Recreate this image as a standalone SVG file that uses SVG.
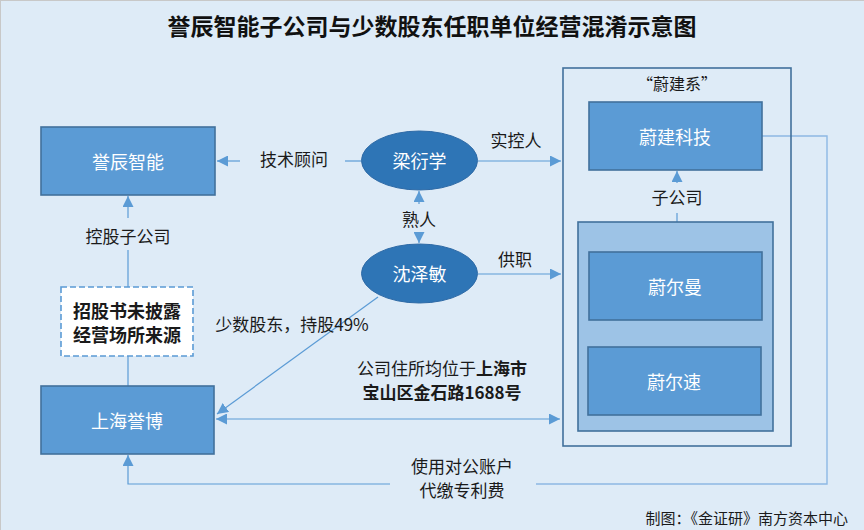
<svg xmlns="http://www.w3.org/2000/svg" width="864" height="530" viewBox="0 0 864 530">
<defs>
<style>
.bg{fill:#DEEBF7;stroke:#C8C8C8;stroke-width:1}
.box{fill:#5B9BD5;stroke:#41719C;stroke-width:1.6}
.ell{fill:#2E75B6;stroke:#2E6AA6;stroke-width:1}
.frame{fill:none;stroke:#41719C;stroke-width:1.6}
.inner{fill:#9DC3E6;stroke:#41719C;stroke-width:1.6}
.dash{fill:#FFFFFF;stroke:#5B9BD5;stroke-width:1.6;stroke-dasharray:6 3}
.ln{fill:none;stroke:#5B9BD5;stroke-width:1.2}
.ln2{fill:none;stroke:#8DB8E4;stroke-width:1.4}
text{font-family:"Noto Sans CJK SC","Microsoft YaHei",sans-serif;text-anchor:middle;dominant-baseline:central}
.w{fill:#FFFFFF;font-size:18px}
.lb{fill:#1A1A1A;font-size:17px}
.b{font-weight:bold}
</style>
<marker id="ar" markerUnits="userSpaceOnUse" viewBox="0 0 10 10" refX="10" refY="5" markerWidth="11" markerHeight="11" orient="auto-start-reverse">
<path d="M0,0 L10,5 L0,10 z" fill="#5B9BD5"/>
</marker>
</defs>
<rect class="bg" x="0.5" y="0.5" width="870" height="540"/>
<text x="432" y="25" style="font-size:23px;font-weight:bold;fill:#111">誉辰智能子公司与少数股东任职单位经营混淆示意图</text>

<g id="connectors">
<path class="ln" d="M361,161 H345"/>
<path class="ln" d="M240,161 H217" marker-end="url(#ar)"/>
<path class="ln" d="M478,161 H561" marker-end="url(#ar)"/>
<path class="ln" d="M419,204 V191" marker-end="url(#ar)"/>
<path class="ln" d="M419,232 V243" marker-end="url(#ar)"/>
<path class="ln" d="M478,274 H561" marker-end="url(#ar)"/>
<path class="ln" d="M378,297 L217,414" marker-end="url(#ar)"/>
<path class="ln" d="M216,419 H560" marker-start="url(#ar)" marker-end="url(#ar)"/>
<path class="ln2" d="M762,136 H827 V484 H536"/>
<path class="ln" d="M390,484 H128 V455" marker-end="url(#ar)"/>
<path class="ln" d="M677,222 V213"/>
<path class="ln" d="M677,183 V171" marker-end="url(#ar)"/>
<path class="ln" d="M128,386 V356"/>
<path class="ln" d="M128,287 V250"/>
<path class="ln" d="M128,218 V196" marker-end="url(#ar)"/>
</g>

<g id="labels">
<text class="lb" x="294" y="158">技术顾问</text>
<text class="lb" x="516" y="139">实控人</text>
<text class="lb" x="419" y="218">熟人</text>
<text class="lb" x="515" y="258">供职</text>
<text class="lb" x="292" y="323">少数股东，持股49%</text>
<text class="lb" x="442" y="367">公司住所均位于<tspan class="b">上海市</tspan></text>
<text class="lb b" x="442" y="391">宝山区金石路1688号</text>
<text class="lb" x="462" y="465">使用对公账户</text>
<text class="lb" x="462" y="489">代缴专利费</text>
<text class="lb" x="677" y="196">子公司</text>
<text class="lb" x="128" y="235">控股子公司</text>
<text x="848" y="517" style="fill:#1A1A1A;font-size:15px;text-anchor:end">制图：《金证研》南方资本中心</text>
</g>

<g id="weijian-group">
<rect class="frame" x="563" y="68" width="228" height="378"/>
<text class="lb" x="677" y="83" style="font-size:16px">“蔚建系”</text>
</g>
<g id="weijian-tech">
<rect class="box" x="589" y="102" width="173" height="68"/>
<text class="w" x="675" y="136">蔚建科技</text>
</g>
<g id="subsidiaries">
<rect class="inner" x="578" y="222" width="195" height="209"/>
</g>
<g id="weierman">
<rect class="box" x="589" y="252" width="173" height="68"/>
<text class="w" x="675" y="286">蔚尔曼</text>
</g>
<g id="weiersu">
<rect class="box" x="588" y="347" width="173" height="68"/>
<text class="w" x="674" y="381">蔚尔速</text>
</g>
<g id="yuchen">
<rect class="box" x="41" y="127" width="174" height="68"/>
<text class="w" x="128" y="161">誉辰智能</text>
</g>
<g id="shanghai-yubo">
<rect class="box" x="41" y="386" width="173" height="68"/>
<text class="w" x="127" y="420">上海誉博</text>
</g>
<g id="note">
<rect class="dash" x="61" y="287" width="132" height="69"/>
<text class="lb b" x="127" y="310" style="font-size:18px">招股书未披露</text>
<text class="lb b" x="127" y="334" style="font-size:18px">经营场所来源</text>
</g>
<g id="liang">
<ellipse class="ell" cx="419.5" cy="160.5" rx="58" ry="29.5"/>
<text class="w" x="419.5" y="160">梁衍学</text>
</g>
<g id="shen">
<ellipse class="ell" cx="419.5" cy="273.5" rx="58" ry="29.5"/>
<text class="w" x="419.5" y="273">沈泽敏</text>
</g>
</svg>
